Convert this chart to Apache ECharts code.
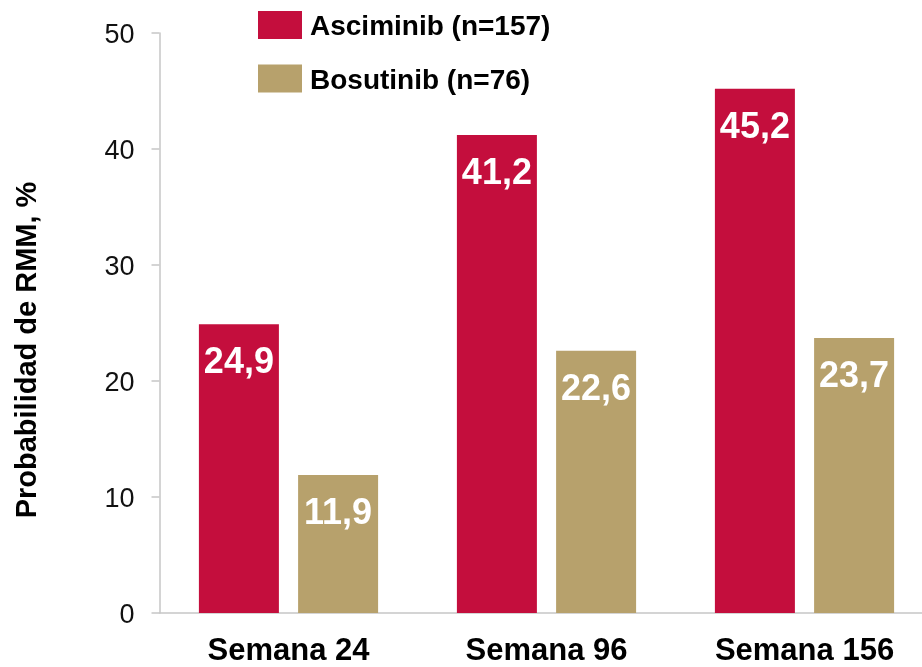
<!DOCTYPE html>
<html>
<head>
<meta charset="utf-8">
<script src="https://cdn.jsdelivr.net/npm/echarts@6/dist/echarts.min.js"></script>
<style>
  html, body { margin: 0; padding: 0; background: #fff; overflow: hidden; }
  /* the x axis runs past the right edge of the window */
  #chart { width: 940px; height: 667px; }
</style>
</head>
<body>
<div id="chart"></div>
<script>
// Probability of major molecular response (RMM) by week
const categories = ['Semana 24', 'Semana 96', 'Semana 156'];
const asciminib = [24.9, 41.2, 45.2];
const bosutinib = [11.9, 22.6, 23.7];
const seriesNames = ['Asciminib (n=157)', 'Bosutinib (n=76)'];
const yTitle = 'Probabilidad de RMM, %';

const FONT = '"Liberation Sans", Arial, sans-serif';
const RED = '#C40E3D';
const TAN = '#B7A16C';
const AXIS = '#C6C6C6';

const fmt = v => String(v).replace('.', ',');

const label = {
  show: true,
  position: 'insideTop',
  distance: 21,
  color: '#fff',
  fontFamily: FONT,
  fontWeight: 'bold',
  fontSize: 36,
  formatter: p => fmt(p.value)
};

const chart = echarts.init(document.getElementById('chart'), null, { renderer: 'canvas' });
chart.setOption({
  animation: false,
  backgroundColor: '#fff',
  grid: { left: 159.5, top: 33, height: 582, width: 774, containLabel: false },
  legend: {
    orient: 'vertical',
    left: 258,
    top: 11,
    padding: 0,
    icon: 'rect',
    itemWidth: 44,
    itemHeight: 28,
    itemGap: 23,
    formatter: '{t|{name}}',
    textStyle: {
      rich: {
        t: {
          fontFamily: FONT,
          fontWeight: 'bold',
          fontSize: 28,
          color: '#000',
          padding: [5, 0, 0, 3]
        }
      }
    },
    data: seriesNames
  },
  xAxis: {
    type: 'category',
    data: categories,
    axisLine: { show: true, lineStyle: { color: AXIS, width: 1.5 } },
    axisTick: { show: false },
    axisLabel: {
      margin: 23,
      color: '#000',
      fontFamily: FONT,
      fontWeight: 'bold',
      fontSize: 31
    }
  },
  yAxis: {
    type: 'value',
    min: 0,
    max: 50,
    interval: 10,
    splitLine: { show: false },
    axisLine: { show: true, lineStyle: { color: AXIS, width: 1.5 } },
    axisTick: { show: true, length: 8, lineStyle: { color: AXIS, width: 1.5 } },
    axisLabel: {
      margin: 25,
      formatter: '{v|{value}}',
      rich: {
        v: {
          color: '#111',
          fontFamily: FONT,
          fontSize: 27,
          padding: [5, 0, 0, 0]
        }
      }
    }
  },
  graphic: [{
    type: 'text',
    x: 28,
    y: 350,
    rotation: Math.PI / 2,
    style: {
      text: yTitle,
      fontFamily: FONT,
      fontWeight: 'bold',
      fontSize: 29,
      fill: '#000',
      align: 'center',
      verticalAlign: 'middle'
    }
  }],
  series: [
    {
      name: seriesNames[0],
      type: 'bar',
      data: asciminib,
      barWidth: 80,
      barGap: '24%',
      itemStyle: { color: RED },
      label: label
    },
    {
      name: seriesNames[1],
      type: 'bar',
      data: bosutinib,
      barWidth: 80,
      barGap: '24%',
      itemStyle: { color: TAN },
      label: label
    }
  ]
});
</script>
</body>
</html>
